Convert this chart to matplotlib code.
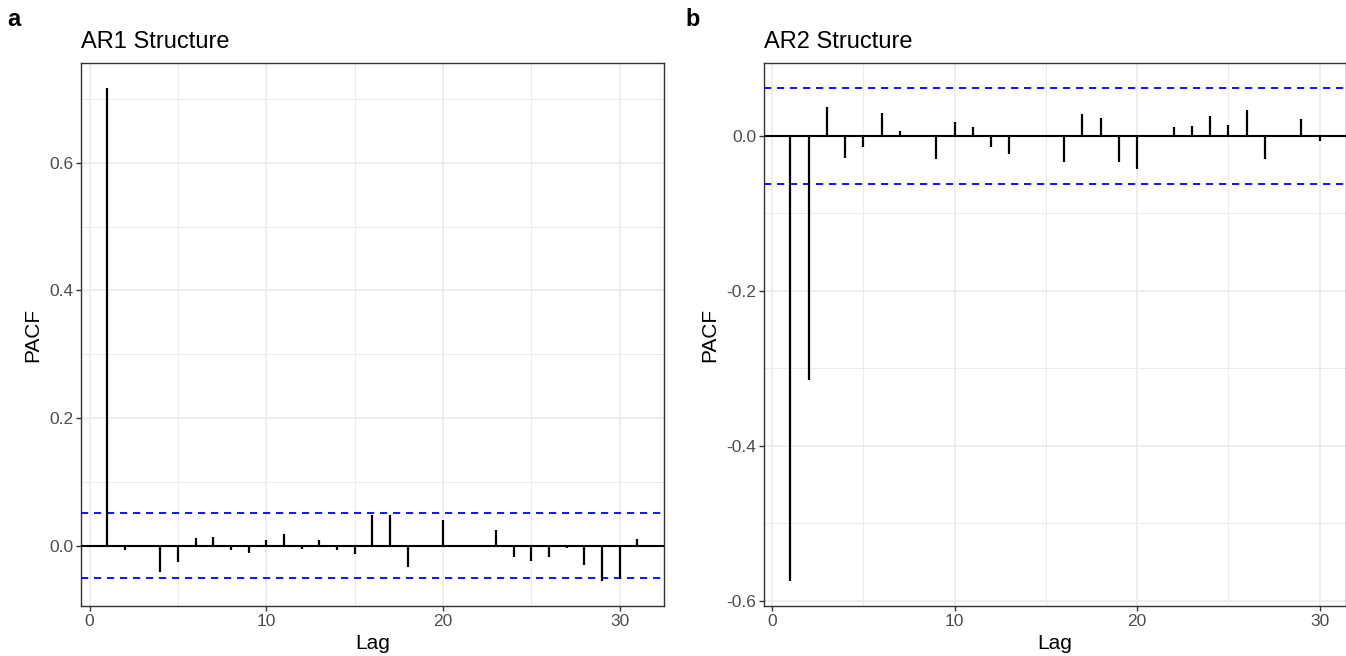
import numpy as np
import matplotlib
matplotlib.use('Agg')
import matplotlib.pyplot as plt
from matplotlib.ticker import MultipleLocator, FormatStrFormatter

plt.rcParams['font.family'] = ['Liberation Sans', 'DejaVu Sans']
plt.rcParams['axes.unicode_minus'] = False

# PACF values
lags_ar1 = list(range(1, 32))
pacf_ar1 = [0.718, -0.007, -0.002, -0.042, -0.025, 0.0115, 0.013, -0.007, -0.012, 0.009,
            0.0177, -0.0047, 0.0083, -0.0073, -0.013, 0.0484, 0.0474, -0.0328, 0.0005, 0.0396,
            0.001, -0.002, 0.0245, -0.018, -0.0245, -0.0177, -0.003, -0.0307, -0.056, -0.0526,
            0.011]
ci_ar1 = 0.0508

lags_ar2 = list(range(1, 31))
pacf_ar2 = [-0.575, -0.315, 0.0366, -0.0284, -0.0146, 0.0292, 0.006, -0.0015, -0.030, 0.018,
            0.0108, -0.0146, -0.024, 0.0008, 0.0005, -0.0335, 0.028, 0.0224, -0.034, -0.043,
            0.0004, 0.0108, 0.0129, 0.025, 0.0133, 0.0327, -0.0305, 0.001, 0.021, -0.0065]
ci_ar2 = 0.062

W, H = 1346, 656
fig = plt.figure(figsize=(W / 100, H / 100), dpi=100)

grey20 = '#333333'
grid_col = '#EBEBEB'
tick_col = '#4D4D4D'


def panel(rect, lags, vals, ci, title, letter, letter_x, yticks):
    ax = fig.add_axes(rect)
    n = len(lags)
    lo = min(min(vals), -ci)
    hi = max(max(vals), ci)
    pad = 0.05 * (hi - lo)

    ax.xaxis.set_major_locator(MultipleLocator(10))
    ax.xaxis.set_minor_locator(MultipleLocator(5))
    ax.set_yticks(yticks)
    step = yticks[1] - yticks[0]
    ax.set_yticks([t + step / 2 for t in yticks] + [yticks[0] - step / 2], minor=True)
    ax.yaxis.set_major_formatter(FormatStrFormatter('%.1f'))
    ax.set_xlim(1 - 0.05 * (n - 1), n + 0.05 * (n - 1))
    ax.set_ylim(lo - pad, hi + pad)

    ax.grid(which='major', color=grid_col, lw=1.2)
    ax.grid(which='minor', color=grid_col, lw=0.7)
    ax.set_axisbelow(True)
    ax.tick_params(which='minor', length=0)
    ax.tick_params(which='major', length=3.5, width=1.0, color=grey20,
                   labelcolor=tick_col, labelsize=12.5, pad=2)
    for s in ax.spines.values():
        s.set_color(grey20)
        s.set_linewidth(1.0)

    ax.axhline(0, color='black', lw=1.5, zorder=3)
    ax.axhline(ci, color='blue', lw=1.3, ls=(0, (4, 3.2)), zorder=3)
    ax.axhline(-ci, color='blue', lw=1.3, ls=(0, (4, 3.2)), zorder=3)
    ax.vlines(lags, 0, vals, color='black', lw=1.6, zorder=4)

    ax.set_xlabel('Lag', fontsize=15, labelpad=4)
    ax.set_ylabel('PACF', fontsize=15, labelpad=5)
    fig.text(rect[0], 1 - 48 / H, title, fontsize=17, ha='left', va='baseline')
    fig.text(letter_x / W, 1 - 26 / H, letter, fontsize=17, fontweight='bold',
             ha='left', va='baseline')
    return ax


panel([80.7 / W, 1 - 606 / H, 583.3 / W, 543 / H], lags_ar1, pacf_ar1, ci_ar1,
      'AR1 Structure', 'a', 7, [0.0, 0.2, 0.4, 0.6])
panel([764 / W, 1 - 606 / H, 582 / W, 543 / H], lags_ar2, pacf_ar2, ci_ar2,
      'AR2 Structure', 'b', 685, [-0.6, -0.4, -0.2, 0.0])

fig.savefig('out.png', dpi=100)
